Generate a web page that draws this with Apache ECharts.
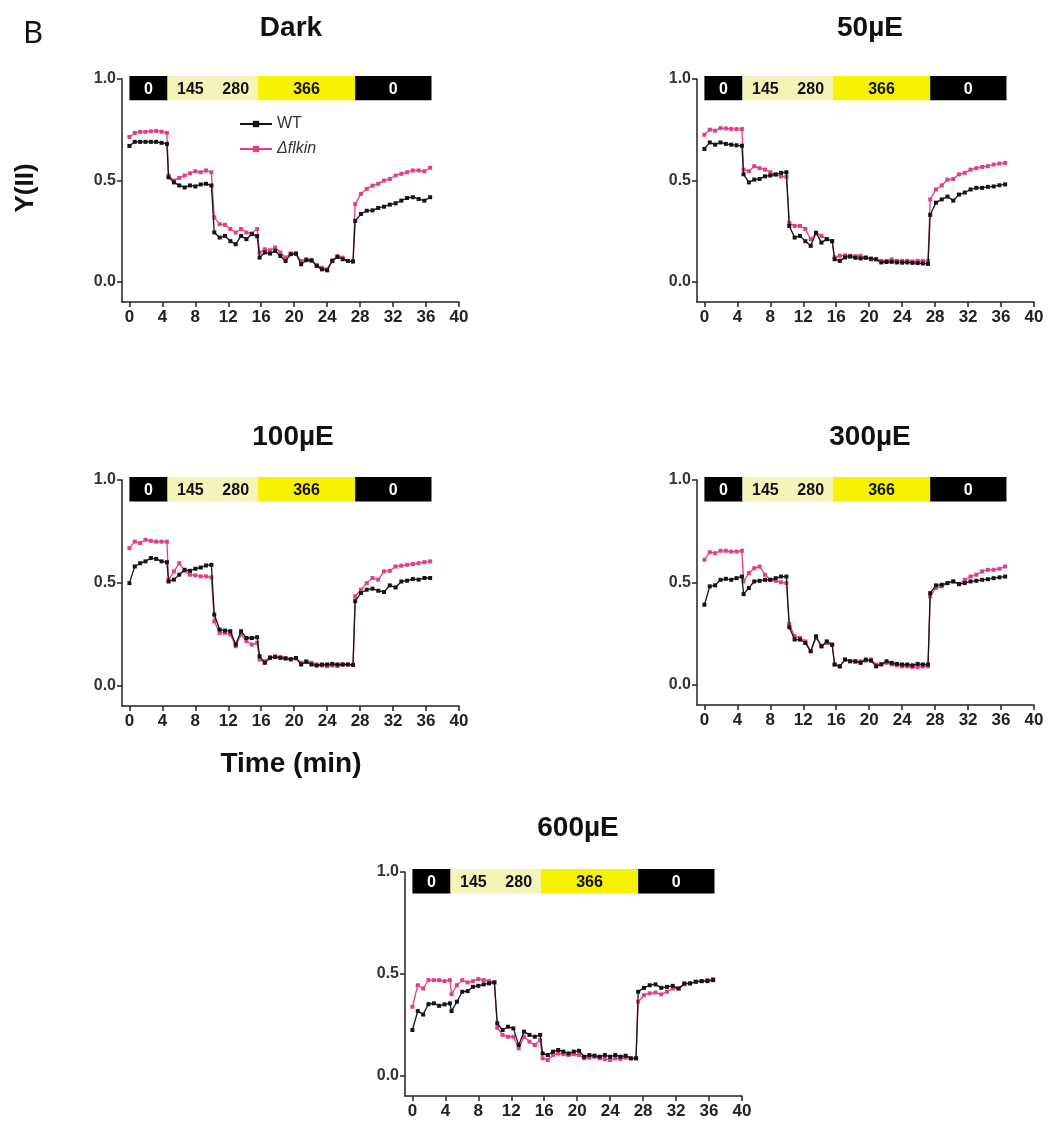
<!DOCTYPE html>
<html><head><meta charset="utf-8">
<script src="https://cdn.jsdelivr.net/npm/echarts@6/dist/echarts.min.js"></script>
<style>html,body{margin:0;padding:0;background:#fff}#c{width:1051px;height:1135px}</style>
</head><body><div id="c"></div>
<script>
// ---- data ----
const panelTitles = ['Dark', '50µE', '100µE', '300µE', '600µE'];
const seriesNames = ['WT', 'Δflkin'];
const xTicks = [0, 4, 8, 12, 16, 20, 24, 28, 32, 36, 40];
const yTicks = [0, 0.5, 1.0];
const barStart = [0, 4.6, 10.2, 15.6, 27.4];
const barEnd = [4.6, 10.2, 15.6, 27.4, 36.6];
const barLabels = ['0', '145', '280', '366', '0'];
const time = [0,0.65,1.3,1.95,2.6,3.25,3.9,4.55,
  4.75,5.4,6.05,6.7,7.35,8.0,8.65,9.3,9.95,
  10.3,10.95,11.6,12.25,12.9,13.55,14.2,14.85,15.5,
  15.8,16.43,17.06,17.69,18.32,18.95,19.58,20.21,20.84,21.47,22.1,22.73,23.36,23.99,24.62,25.25,25.88,26.51,27.14,
  27.4,28.1,28.8,29.5,30.2,30.9,31.6,32.3,33.0,33.7,34.4,35.1,35.8,36.5];

const darkWT = [0.67,0.69,0.69,0.69,0.69,0.69,0.685,0.68,
  0.515,0.49,0.475,0.465,0.475,0.47,0.48,0.483,0.475,
  0.243,0.218,0.226,0.2,0.185,0.226,0.21,0.235,0.225,
  0.119,0.144,0.139,0.152,0.127,0.102,0.136,0.138,0.086,0.106,0.104,0.078,0.061,0.056,0.102,0.122,0.111,0.102,0.10,
  0.30,0.334,0.35,0.352,0.364,0.37,0.38,0.387,0.40,0.413,0.417,0.408,0.40,0.417];
const darkKO = [0.714,0.734,0.739,0.739,0.742,0.744,0.74,0.734,
  0.524,0.499,0.512,0.524,0.535,0.545,0.54,0.549,0.54,
  0.317,0.284,0.281,0.26,0.243,0.26,0.243,0.238,0.26,
  0.144,0.16,0.155,0.169,0.144,0.119,0.139,0.14,0.102,0.111,0.108,0.083,0.069,0.061,0.106,0.127,0.119,0.102,0.10,
  0.383,0.433,0.458,0.474,0.483,0.499,0.507,0.524,0.532,0.54,0.549,0.549,0.545,0.562];
const ue50WT = [0.655,0.687,0.676,0.687,0.68,0.676,0.673,0.671,
  0.53,0.49,0.504,0.507,0.52,0.524,0.529,0.537,0.54,
  0.275,0.218,0.226,0.2,0.177,0.242,0.193,0.21,0.2,
  0.111,0.103,0.12,0.124,0.118,0.115,0.118,0.114,0.11,0.095,0.097,0.098,0.095,0.094,0.095,0.093,0.092,0.09,0.088,
  0.33,0.39,0.406,0.42,0.40,0.43,0.44,0.455,0.463,0.463,0.468,0.47,0.476,0.48];
const ue50KO = [0.725,0.75,0.745,0.758,0.756,0.754,0.753,0.753,
  0.553,0.545,0.57,0.56,0.553,0.54,0.529,0.52,0.517,
  0.29,0.275,0.275,0.26,0.21,0.24,0.226,0.21,0.2,
  0.12,0.128,0.13,0.128,0.126,0.128,0.12,0.11,0.112,0.103,0.103,0.11,0.103,0.103,0.103,0.1,0.103,0.103,0.103,
  0.406,0.455,0.475,0.504,0.507,0.53,0.537,0.553,0.56,0.566,0.57,0.578,0.583,0.586];
const ue100WT = [0.498,0.579,0.595,0.604,0.62,0.616,0.604,0.60,
  0.506,0.515,0.539,0.563,0.558,0.568,0.574,0.584,0.587,
  0.345,0.272,0.267,0.264,0.199,0.264,0.231,0.231,0.235,
  0.142,0.11,0.134,0.138,0.134,0.131,0.128,0.134,0.102,0.115,0.102,0.097,0.102,0.102,0.105,0.102,0.102,0.102,0.10,
  0.41,0.45,0.466,0.471,0.461,0.455,0.487,0.477,0.506,0.51,0.518,0.515,0.523,0.523];
const ue100KO = [0.668,0.70,0.693,0.709,0.704,0.70,0.70,0.70,
  0.515,0.555,0.595,0.558,0.539,0.536,0.531,0.531,0.526,
  0.312,0.256,0.256,0.248,0.191,0.248,0.215,0.199,0.207,
  0.126,0.118,0.138,0.142,0.138,0.134,0.126,0.131,0.110,0.118,0.110,0.102,0.097,0.094,0.097,0.094,0.102,0.102,0.10,
  0.434,0.466,0.498,0.523,0.515,0.555,0.558,0.579,0.583,0.587,0.591,0.595,0.60,0.604];
const ue300WT = [0.39,0.48,0.485,0.512,0.517,0.512,0.52,0.528,
  0.442,0.472,0.504,0.507,0.512,0.512,0.52,0.528,0.528,
  0.28,0.22,0.22,0.203,0.163,0.236,0.187,0.211,0.195,
  0.098,0.089,0.122,0.114,0.114,0.106,0.122,0.117,0.089,0.098,0.114,0.106,0.101,0.098,0.098,0.094,0.101,0.098,0.098,
  0.447,0.485,0.488,0.496,0.504,0.491,0.496,0.504,0.507,0.512,0.515,0.52,0.524,0.528];
const ue300KO = [0.61,0.647,0.642,0.654,0.654,0.65,0.65,0.654,
  0.504,0.545,0.569,0.577,0.537,0.512,0.507,0.50,0.496,
  0.296,0.236,0.228,0.211,0.163,0.228,0.187,0.203,0.195,
  0.098,0.089,0.122,0.114,0.111,0.114,0.117,0.122,0.098,0.101,0.106,0.098,0.094,0.089,0.089,0.085,0.085,0.089,0.089,
  0.431,0.472,0.48,0.496,0.504,0.491,0.512,0.528,0.537,0.553,0.561,0.561,0.566,0.577];
const ue600WT = [0.224,0.317,0.30,0.351,0.355,0.343,0.35,0.355,
  0.317,0.363,0.412,0.415,0.436,0.441,0.448,0.453,0.458,
  0.257,0.224,0.24,0.232,0.15,0.216,0.20,0.191,0.20,
  0.109,0.101,0.118,0.126,0.118,0.109,0.118,0.122,0.093,0.101,0.098,0.093,0.101,0.093,0.101,0.093,0.098,0.085,0.085,
  0.412,0.431,0.444,0.448,0.431,0.436,0.441,0.428,0.453,0.453,0.461,0.464,0.464,0.469];
const ue600KO = [0.338,0.444,0.428,0.469,0.469,0.469,0.464,0.469,
  0.40,0.444,0.469,0.458,0.464,0.474,0.469,0.464,0.458,
  0.235,0.20,0.191,0.191,0.134,0.191,0.167,0.15,0.175,
  0.085,0.077,0.101,0.109,0.105,0.101,0.105,0.101,0.085,0.088,0.093,0.085,0.082,0.077,0.085,0.082,0.088,0.085,0.085,
  0.363,0.395,0.404,0.408,0.399,0.412,0.428,0.428,0.448,0.453,0.461,0.464,0.469,0.474];

const wtSets = [darkWT, ue50WT, ue100WT, ue300WT, ue600WT];
const koSets = [darkKO, ue50KO, ue100KO, ue300KO, ue600KO];

// ---- layout / style ----
const layout = [
  {left: 122, top: 79, width: 337, height: 223, tx: 291, ty: 28},
  {left: 697, top: 79, width: 337, height: 223, tx: 870, ty: 28},
  {left: 122, top: 480, width: 337, height: 226, tx: 293, ty: 437},
  {left: 697, top: 480, width: 337, height: 225, tx: 870, ty: 437},
  {left: 405, top: 872, width: 337, height: 224, tx: 578, ty: 828}
];
const WT_COLOR = '#151515';
const KO_COLOR = '#e23f88';
const barFill = ['#000000', '#f4f4b8', '#f4f4b8', '#f6f200', '#000000'];
const barText = ['#ffffff', '#111111', '#111111', '#111111', '#ffffff'];
const BAR_TOP = 1.015, BAR_BOTTOM = 0.895;
const XMIN = -0.9;

const grids = [], xAxes = [], yAxes = [], series = [], graphics = [];
const axisCommon = {
  axisLine: {show: true, onZero: false, lineStyle: {color: '#222', width: 1.5}},
  axisTick: {show: true, inside: false, length: 5, lineStyle: {color: '#222', width: 1.5}},
  splitLine: {show: false}
};

layout.forEach((L, i) => {
  grids.push({left: L.left, top: L.top, width: L.width, height: L.height, containLabel: false});
  xAxes.push(Object.assign({}, axisCommon, {
    type: 'value', gridIndex: i, min: XMIN, max: 40,
    axisTick: Object.assign({}, axisCommon.axisTick, {customValues: xTicks}),
    axisLabel: {customValues: xTicks, color: '#222', fontSize: 17, fontWeight: 'bold', fontFamily: 'Arial', margin: 7}
  }));
  yAxes.push(Object.assign({}, axisCommon, {
    type: 'value', gridIndex: i, min: -0.1, max: 1.0,
    axisTick: Object.assign({}, axisCommon.axisTick, {customValues: yTicks}),
    axisLabel: {customValues: yTicks, color: '#333', fontSize: 16, fontWeight: 'bold', fontFamily: 'Arial', margin: 6,
      formatter: v => v.toFixed(1)}
  }));
  series.push({
    type: 'custom', xAxisIndex: i, yAxisIndex: i, silent: true, z: 1,
    data: barStart.map((s, k) => [s, barEnd[k]]),
    renderItem: function (params, api) {
      const k = params.dataIndex;
      const p1 = api.coord([api.value(0), BAR_TOP]);
      const p2 = api.coord([api.value(1), BAR_BOTTOM]);
      return {type: 'group', children: [
        {type: 'rect', shape: {x: p1[0], y: p1[1], width: p2[0] - p1[0] + 0.5, height: p2[1] - p1[1]},
          style: {fill: barFill[k]}},
        {type: 'text', style: {text: barLabels[k], x: (p1[0] + p2[0]) / 2, y: (p1[1] + p2[1]) / 2 + 1,
          align: 'center', verticalAlign: 'middle', fill: barText[k], font: 'bold 16px Arial'}}
      ]};
    }
  });
  series.push({
    name: seriesNames[1], type: 'line', xAxisIndex: i, yAxisIndex: i, z: 3,
    data: time.map((t, k) => [t, koSets[i][k]]),
    symbol: 'rect', symbolSize: 4, showSymbol: true,
    lineStyle: {color: KO_COLOR, width: 1.3}, itemStyle: {color: KO_COLOR},
    animation: false
  });
  series.push({
    name: seriesNames[0], type: 'line', xAxisIndex: i, yAxisIndex: i, z: 4,
    data: time.map((t, k) => [t, wtSets[i][k]]),
    symbol: 'rect', symbolSize: 4, showSymbol: true,
    lineStyle: {color: WT_COLOR, width: 1.3}, itemStyle: {color: WT_COLOR},
    animation: false
  });
  graphics.push({type: 'text', x: L.tx, y: L.ty,
    style: {text: panelTitles[i], font: 'bold 28px Arial', fill: '#111', align: 'center', verticalAlign: 'middle'}});
});

graphics.push({type: 'text', x: 23, y: 34, style: {text: 'B', font: '31px "Noto Sans"', fill: '#111', align: 'left', verticalAlign: 'middle'}});
graphics.push({type: 'text', x: 26, y: 188, rotation: Math.PI / 2,
  style: {text: 'Y(II)', font: 'bold 26px Arial', fill: '#111', align: 'center', verticalAlign: 'middle'}});
graphics.push({type: 'text', x: 291, y: 764, style: {text: 'Time (min)', font: 'bold 28px Arial', fill: '#111', align: 'center', verticalAlign: 'middle'}});

const chart = echarts.init(document.getElementById('c'), null, {renderer: 'canvas'});
chart.setOption({
  animation: false,
  backgroundColor: '#ffffff',
  grid: grids, xAxis: xAxes, yAxis: yAxes, series: series,
  legend: {
    data: [
      {name: seriesNames[0]},
      {name: seriesNames[1], textStyle: {fontStyle: 'italic'}}
    ],
    left: 234, top: 111, orient: 'vertical', itemGap: 9, itemWidth: 32, itemHeight: 8,
    textStyle: {fontSize: 16, fontFamily: 'Arial', color: '#333'},
    selectedMode: false
  },
  graphic: graphics
});
</script></body></html>
